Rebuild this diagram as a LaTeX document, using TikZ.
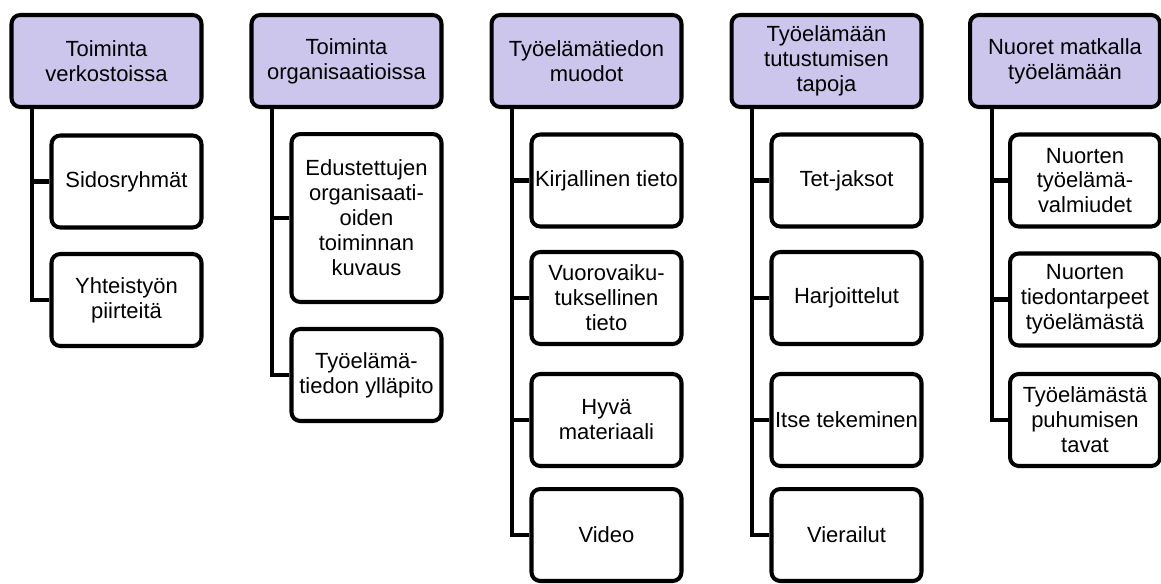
\documentclass[tikz,border=0pt]{standalone}
\usepackage{fontspec}
\setmainfont{Liberation Sans}
\usepackage{tikz}
\definecolor{lavender}{RGB}{204,197,236}

\begin{document}
\begin{tikzpicture}[x=0.02cm, y=-0.02cm,
    headbox/.style={draw, line width=2.3pt, rounded corners=5pt, fill=lavender,
        minimum width=3.8cm, minimum height=1.84cm, align=center, inner sep=1pt,
        font=\fontsize{12.5}{14.2}\selectfont},
    itembox/.style={draw, line width=2.3pt, rounded corners=5pt, fill=white,
        minimum width=3.0cm, minimum height=1.84cm, align=center, inner sep=1pt,
        font=\fontsize{12.5}{14.2}\selectfont},
    branch/.style={line width=2.3pt}]
    \useasboundingbox (0, 0) rectangle (1161, 583);

    % column 1
    \node[headbox] (h1) at (106.5, 61) {Toiminta\\verkostoissa};
    \node[itembox] (c1a) at (126.5, 181.5) {Sidosryhmät};
    \node[itembox] (c1b) at (126.5, 300) {Yhteistyön\\piirteitä};
    \coordinate (t1) at (32, 108);
    \draw[branch] (t1) |- (c1b.west);
    \draw[branch] (c1a.west) -- (c1a.west -| t1);

    % column 2
    \node[headbox] (h2) at (346.5, 61) {Toiminta\\organisaatioissa};
    \node[itembox, minimum height=3.36cm] (c2a) at (366.5, 218) {Edustettujen\\organisaati-\\oiden\\toiminnan\\kuvaus};
    \node[itembox] (c2b) at (366.5, 375) {Työelämä-\\tiedon ylläpito};
    \coordinate (t2) at (272, 108);
    \draw[branch] (t2) |- (c2b.west);
    \draw[branch] (c2a.west) -- (c2a.west -| t2);

    % column 3
    \node[headbox] (h3) at (586.5, 61) {Työelämätiedon\\muodot};
    \node[itembox] (c3a) at (606.5, 180.5) {Kirjallinen tieto};
    \node[itembox] (c3b) at (606.5, 298) {Vuorovaiku-\\tuksellinen\\tieto};
    \node[itembox] (c3c) at (606.5, 420) {Hyvä\\materiaali};
    \node[itembox] (c3d) at (606.5, 535) {Video};
    \coordinate (t3) at (512, 108);
    \draw[branch] (t3) |- (c3d.west);
    \draw[branch] (c3a.west) -- (c3a.west -| t3);
    \draw[branch] (c3b.west) -- (c3b.west -| t3);
    \draw[branch] (c3c.west) -- (c3c.west -| t3);

    % column 4
    \node[headbox] (h4) at (826.5, 61) {Työelämään\\tutustumisen\\tapoja};
    \node[itembox] (c4a) at (846.5, 180.5) {Tet-jaksot};
    \node[itembox] (c4b) at (846.5, 298) {Harjoittelut};
    \node[itembox] (c4c) at (846.5, 420) {Itse tekeminen};
    \node[itembox] (c4d) at (846.5, 535) {Vierailut};
    \coordinate (t4) at (752, 108);
    \draw[branch] (t4) |- (c4d.west);
    \draw[branch] (c4a.west) -- (c4a.west -| t4);
    \draw[branch] (c4b.west) -- (c4b.west -| t4);
    \draw[branch] (c4c.west) -- (c4c.west -| t4);

    % column 5
    \node[headbox] (h5) at (1065, 61) {Nuoret matkalla\\työelämään};
    \node[itembox] (c5a) at (1085, 180.5) {Nuorten\\työelämä-\\valmiudet};
    \node[itembox] (c5b) at (1085, 299.5) {Nuorten\\tiedontarpeet\\työelämästä};
    \node[itembox] (c5c) at (1085, 420) {Työelämästä\\puhumisen\\tavat};
    \coordinate (t5) at (992, 108);
    \draw[branch] (t5) |- (c5c.west);
    \draw[branch] (c5a.west) -- (c5a.west -| t5);
    \draw[branch] (c5b.west) -- (c5b.west -| t5);
\end{tikzpicture}
\end{document}
